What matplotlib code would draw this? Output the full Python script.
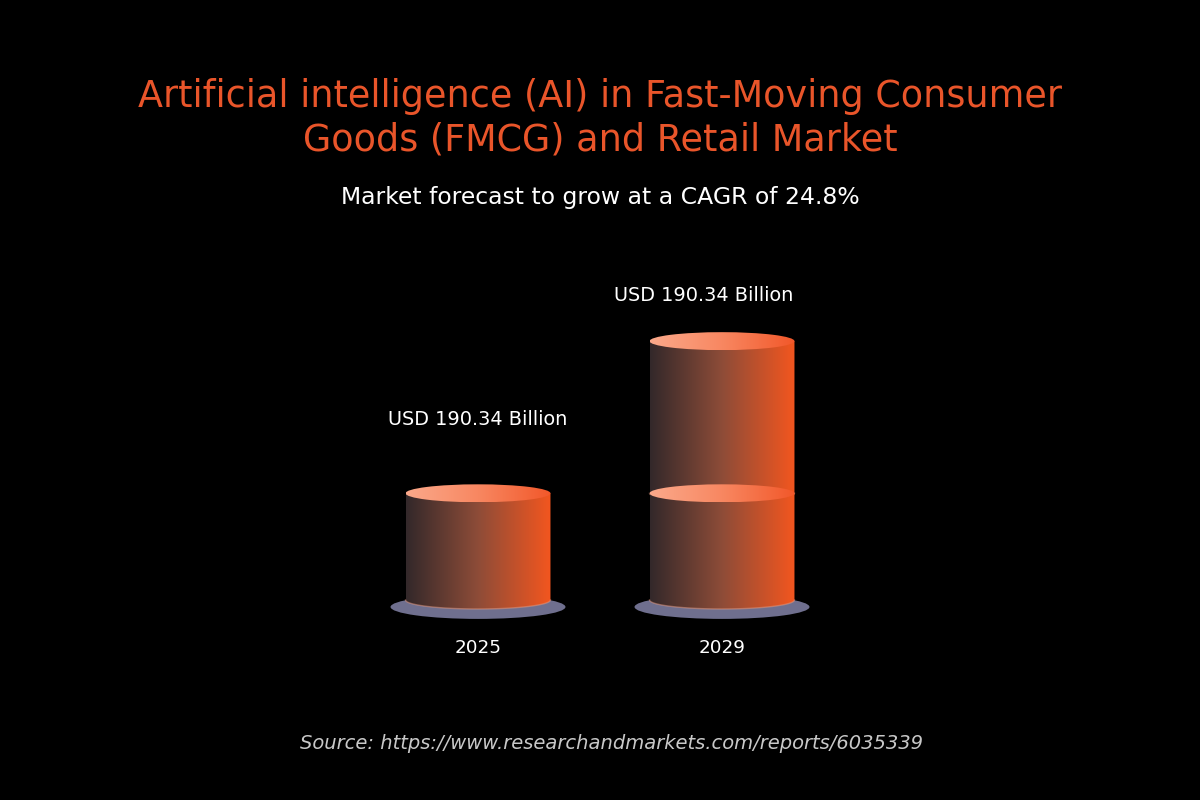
import numpy as np
import matplotlib.pyplot as plt
from matplotlib.colors import LinearSegmentedColormap
from matplotlib.patches import Ellipse, PathPatch
from matplotlib.path import Path

years = ["2025", "2029"]
values = [78.46, 190.34]          # USD billion, read from the heights
value_labels = ["USD 190.34 Billion", "USD 190.34 Billion"]
title = "Artificial intelligence (AI) in Fast-Moving Consumer\nGoods (FMCG) and Retail Market"
subtitle = "Market forecast to grow at a CAGR of 24.8%"
source = "Source: https://www.researchandmarkets.com/reports/6035339"

FONT = ["DejaVu Sans"]
ORANGE = "#E9552A"

body_cmap = LinearSegmentedColormap.from_list("body", ["#33282a", "#8e4c38", "#f3561f"])
top_cmap = LinearSegmentedColormap.from_list("top", ["#fba98b", "#f88761", "#f2582a"])

fig = plt.figure(figsize=(12, 8), dpi=100, facecolor="black")
ax = fig.add_axes([0.195, 0.148, 0.61, 0.527])
ax.set_facecolor("black")
ax.set_xlim(-1, 2)
ax.set_ylim(-60, 250)
ax.axis("off")

W = 0.594      # cylinder width (x units)
EH = 6.6       # ellipse half height (value units)
grad = np.linspace(0, 1, 256).reshape(1, -1)


def gradient(shape, x0, x1, y0, y1, cmap, z):
    ax.add_patch(shape)
    im = ax.imshow(grad, cmap=cmap, extent=[x0, x1, y0, y1], aspect="auto",
                   interpolation="bicubic", zorder=z)
    im.set_clip_path(shape)


def body(x, y0, y1, z):
    x0, x1 = x - W / 2, x + W / 2
    # rectangle plus lower half ellipse
    t = np.linspace(np.pi, 2 * np.pi, 60)
    bx = x + W / 2 * np.cos(t)
    by = y0 + EH * np.sin(t)
    verts = list(zip(bx, by)) + [(x1, y1), (x0, y1), (bx[0], by[0])]
    shape = PathPatch(Path(verts, closed=True), facecolor="none",
                      edgecolor="none", zorder=z)
    gradient(shape, x0, x1, y0 - EH, y1, body_cmap, z)
    # faint light rim at the bottom
    ax.plot(bx, by, color="#e59a80", lw=1.0, alpha=0.5, zorder=z + 0.1)


def top(x, y, z):
    x0, x1 = x - W / 2, x + W / 2
    e = Ellipse((x, y), W, 2 * EH, facecolor="none", edgecolor="none", zorder=z)
    gradient(e, x0, x1, y - EH, y + EH, top_cmap, z)


for i, v in enumerate(values):
    # shadow disc
    ax.add_patch(Ellipse((i, -5.1), 0.717, 17.6, facecolor="#6f6f8e",
                         edgecolor="none", zorder=1))

# 2025
body(0, 0, values[0], 2)
top(0, values[0], 3)

# 2029: upper part stacked on the 2025 level
body(1, values[0], values[1], 2)
top(1, values[1], 3)
body(1, 0, values[0], 4)
top(1, values[0], 5)

label_gap = [74, 46]      # px above the cylinder top
label_dx = [0, -18]
for i, v in enumerate(values):
    ax.annotate(value_labels[i], (i, v), xytext=(label_dx[i], label_gap[i]),
                textcoords="offset pixels", color="white", ha="center",
                va="center", fontsize=13.9, family=FONT)
    ax.annotate(years[i], (i, 0), xytext=(0, -48), textcoords="offset pixels",
                color="white", ha="center", va="center", fontsize=13.2,
                family=FONT)

fig.text(0.5, 0.852, title, color=ORANGE, ha="center", va="center",
         fontsize=26.3, family=FONT, linespacing=1.22)
fig.text(0.5, 0.753, subtitle, color="white", ha="center", va="center",
         fontsize=16.9, family=FONT)
fig.text(0.51, 0.071, source, color="#c8c8c8", ha="center", va="center",
         fontsize=14.0, family=FONT, style="italic")

fig.savefig("out.png", dpi=100, facecolor="black")
